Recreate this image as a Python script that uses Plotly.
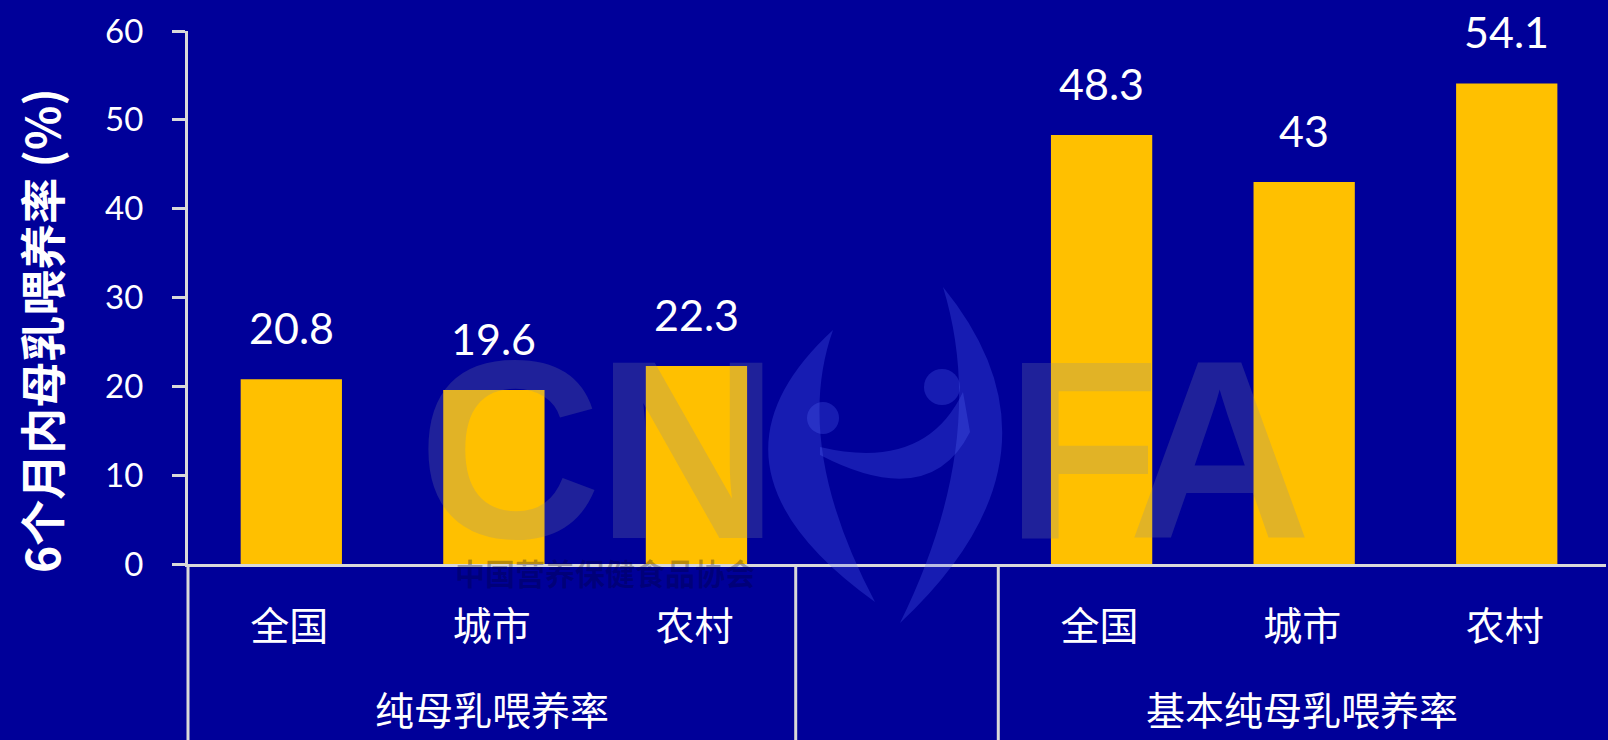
import plotly.graph_objects as go

# ---- data ----
groups = ["纯母乳喂养率", "基本纯母乳喂养率"]
areas = ["全国", "城市", "农村"]
pure_bf = [20.8, 19.6, 22.3]        # 纯母乳喂养率
basic_bf = [48.3, 43, 54.1]         # 基本纯母乳喂养率
y_ticks = [0, 10, 20, 30, 40, 50, 60]
y_title = "6个月内母乳喂养率 (%)"
watermark_letters = ["C", "N", "F", "A"]
watermark_org = "中国营养保健食品协会"

# slots 0-2: first group, 3: spacer, 4-6: second group
x_pos = [0, 1, 2, 4, 5, 6]
values = pure_bf + basic_bf
tick_pos = list(range(7))
tick_text = areas + [""] + areas

BG = "#000099"
BAR = "#FFC000"
LINE = "#D9D9D9"
W, H = 1608, 740
ML, MR, MT, MB = 188, 2, 31, 176
PW, PH = W - ML - MR, H - MT - MB


def px(x, y):
    """pixel position on the page -> paper coordinates"""
    return (x - ML) / PW, (H - MB - y) / PH


def path(cmds):
    out = []
    for c in cmds:
        if isinstance(c, str):
            out.append(c)
        else:
            a, b = px(*c)
            out.append(f"{a:.5f},{b:.5f}")
    return " ".join(out)


fig = go.Figure()
fig.add_trace(go.Bar(
    x=x_pos, y=values, marker=dict(color=BAR, line=dict(width=0)),
    width=0.5, offset=-0.24, hoverinfo="skip",
))

annotations = []
# value labels
for xv, v in zip(x_pos, values):
    annotations.append(dict(
        x=xv + 0.01, y=v, xref="x", yref="y", text=f"{v:g}", showarrow=False,
        yanchor="bottom", yshift=24,
        font=dict(family="Lato", size=43, color="white"),
    ))
# group labels
for g, xc in zip(groups, [1, 5]):
    annotations.append(dict(
        x=xc, y=0, xref="x", yref="paper", text=g, showarrow=False,
        yanchor="middle", yshift=-144,
        font=dict(family="Noto Sans CJK SC", size=39, color="white"),
    ))
# y-axis title
tx, ty = px(40, 331)
annotations.append(dict(
    x=tx, y=ty, xref="paper", yref="paper", text=f"<b>{y_title}</b>",
    textangle=-90, showarrow=False, xanchor="center", yanchor="middle",
    font=dict(family="Noto Sans CJK SC", size=46, color="white"),
))

# logo watermark letters
wm_color = "rgba(130,140,160,0.24)"
for ch, cx in zip(watermark_letters, [509, 687, 1082, 1219]):
    lx, ly = px(cx, 450)
    annotations.append(dict(
        x=lx, y=ly, xref="paper", yref="paper", text=f"<b>{ch}</b>",
        showarrow=False, xanchor="center", yanchor="middle",
        font=dict(family="Liberation Sans", size=254, color=wm_color),
    ))
ox, oy = px(605, 572)
annotations.append(dict(
    x=ox, y=oy, xref="paper", yref="paper", text=f"<b>{watermark_org}</b>",
    showarrow=False, xanchor="center", yanchor="middle",
    font=dict(family="Noto Sans CJK SC", size=30, color="rgba(0,0,40,0.28)"),
))

shapes = []
# category dividers below the axis
for k in [0, 3, 4]:
    shapes.append(dict(
        type="line", xref="paper", yref="paper", x0=k / 7, x1=k / 7,
        y0=0, y1=-MB / PH, line=dict(color=LINE, width=3), layer="above",
    ))

# logo figure (two crescents, arm band and heads)
fig_color = "rgba(90,110,255,0.25)"
logo_paths = [
    ["M", (833, 330), "Q", (685, 466), (875, 602), "Q", (792, 445), (833, 330), "Z"],
    ["M", (943, 287), "Q", (1080, 455), (900, 623), "Q", (990, 440), (943, 287), "Z"],
    ["M", (820, 447), "Q", (925, 472), (963, 392), "L", (970, 432),
     "Q", (930, 512), (820, 455), "Z"],
]
for p in logo_paths:
    shapes.append(dict(type="path", xref="paper", yref="paper", path=path(p),
                       fillcolor=fig_color, line=dict(width=0), layer="above"))
for (cx, cy, r) in [(823, 418, 16), (942, 387, 18)]:
    x0, y0 = px(cx - r, cy + r)
    x1, y1 = px(cx + r, cy - r)
    shapes.append(dict(type="circle", xref="paper", yref="paper",
                       x0=x0, y0=y0, x1=x1, y1=y1, fillcolor=fig_color,
                       line=dict(width=0), layer="above"))

fig.update_layout(
    width=W, height=H,
    margin=dict(l=ML, r=MR, t=MT, b=MB),
    paper_bgcolor=BG, plot_bgcolor=BG,
    showlegend=False,
    bargap=0.5,
    annotations=annotations,
    shapes=shapes,
    xaxis=dict(
        range=[-0.5, 6.5], tickmode="array", tickvals=tick_pos, ticktext=tick_text,
        showgrid=False, zeroline=False, showline=True, linecolor=LINE, linewidth=3,
        ticks="", ticklabelstandoff=26,
        tickfont=dict(family="Noto Sans CJK SC", size=39, color="white"),
        fixedrange=True,
    ),
    yaxis=dict(
        range=[0, 60], tickmode="array", tickvals=y_ticks,
        showgrid=False, zeroline=False, showline=True, linecolor=LINE, linewidth=3,
        ticks="outside", ticklen=13, tickwidth=3, tickcolor=LINE,
        ticklabelstandoff=22,
        tickfont=dict(family="Lato", size=33, color="white"),
        fixedrange=True,
    ),
)

fig.write_html("out.html", config={"displayModeBar": False})
